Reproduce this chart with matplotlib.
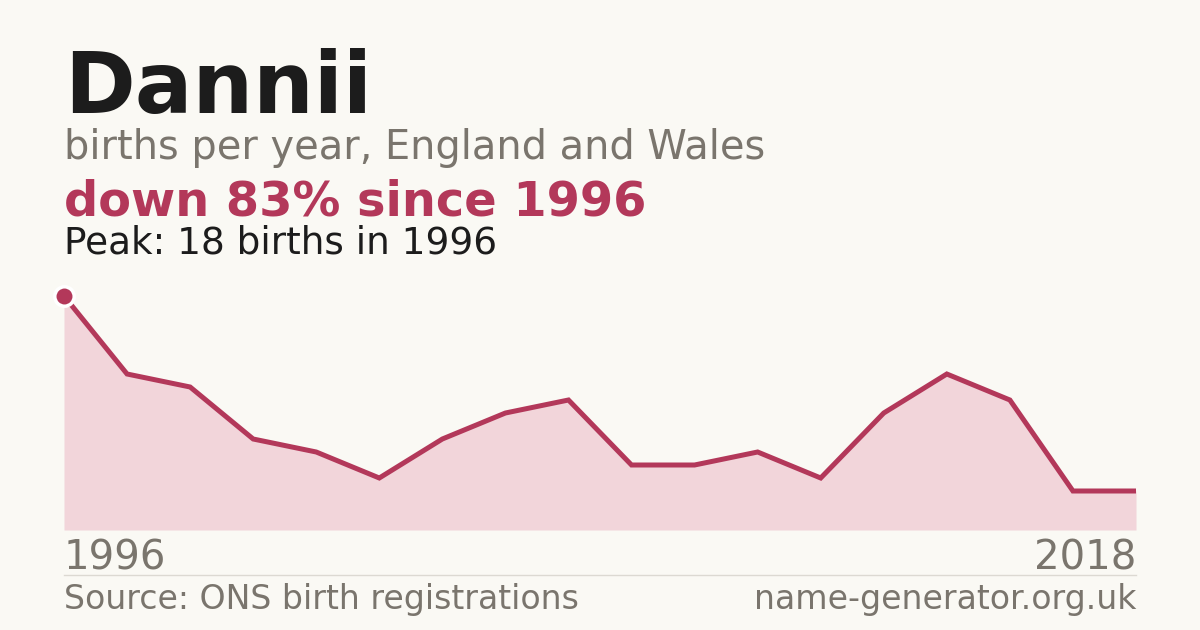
import matplotlib
matplotlib.use("Agg")
import matplotlib.pyplot as plt
import numpy as np

# births per year for the name, in order of the years shown
births = [18, 12, 11, 7, 6, 4, 7, 9, 10, 5, 5, 6, 4, 9, 12, 10, 3, 3]
first_year = 1996
last_year = 2018

name = "Dannii"
subtitle = "births per year, England and Wales"
change_text = "down 83% since 1996"
peak_text = "Peak: 18 births in 1996"
source_text = "Source: ONS birth registrations"
site_text = "name-generator.org.uk"

BG = "#faf9f4"
RED = "#b3385a"
FILL = "#f2d5da"
GRAY = "#7a756d"
DARK = "#1c1c1c"

W, H = 1200, 630

def fy(px):
    return 1 - px / H

def fx(px):
    return px / W

fig = plt.figure(figsize=(12, 6.3), dpi=100, facecolor=BG)

# chart area: x 64..1136, y 296 (peak) .. 530 (zero)
ax = fig.add_axes([fx(64), fy(530), fx(1136) - fx(64), fy(296) - fy(530)])
ax.set_facecolor(BG)
x = np.arange(len(births))
ax.fill_between(x, births, 0, color=FILL, lw=0)
ax.plot(x, births, color=RED, lw=3.6, solid_joinstyle="miter",
        solid_capstyle="butt", clip_on=False)
peak_i = int(np.argmax(births))
ax.plot(x[peak_i], births[peak_i], "o", ms=14, color=RED, mec="white", mew=2.5,
        clip_on=False, zorder=5)
ax.set_xlim(0, len(births) - 1)
ax.set_ylim(0, max(births))
ax.axis("off")

fig.text(fx(64), fy(113), name, fontsize=61.5, fontweight="bold", color=DARK, va="baseline")
fig.text(fx(64), fy(159), subtitle, fontsize=28.7, color=GRAY, va="baseline")
fig.text(fx(64), fy(215), change_text, fontsize=34.5, fontweight="bold", color=RED, va="baseline")
fig.text(fx(64), fy(253), peak_text, fontsize=26.9, color=DARK, va="baseline")

fig.text(fx(64), fy(570), str(first_year), fontsize=29, color=GRAY, va="baseline")
fig.text(fx(1136), fy(570), str(last_year), fontsize=29, color=GRAY, va="baseline", ha="right")

fig.add_artist(plt.Line2D([fx(64), fx(1136)], [fy(574.5), fy(574.5)], color="#dcd9d2", lw=1))

fig.text(fx(64), fy(609), source_text, fontsize=23.9, color=GRAY, va="baseline")
fig.text(fx(1136), fy(609), site_text, fontsize=23.9, color=GRAY, va="baseline", ha="right")

fig.savefig("out.png", dpi=100, facecolor=BG)
